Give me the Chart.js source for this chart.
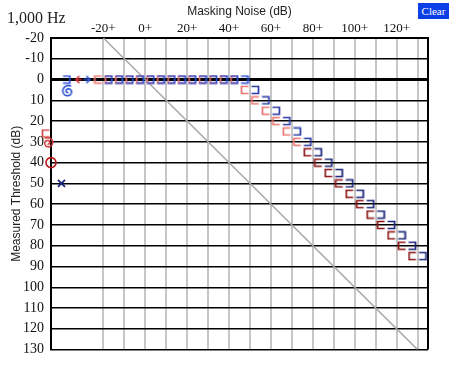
<!DOCTYPE html>
<html>
<head>
<meta charset="utf-8">
<script src="https://cdn.jsdelivr.net/npm/chart.js@4.4.1/dist/chart.umd.min.js"></script>
<style>
  body { margin: 0; background: #fff; }
  #wrap { position: relative; width: 458px; height: 365px; }
  #freq { position: absolute; left: 7px; top: 9px; font-family: "Liberation Serif", "DejaVu Serif", serif; font-size: 16px; color: #222; }
  #clear { position: absolute; left: 418px; top: 3px; width: 31px; height: 16px; background: #0a3ee6; color: #fff;
           font-family: "Liberation Serif", serif; font-size: 11px; line-height: 16px; text-align: center; }
</style>
</head>
<body>
<div id="wrap">
  <canvas id="audiogram" width="458" height="365"></canvas>
  <div id="freq">1,000 Hz</div>
  <div id="clear">Clear</div>
</div>
<script>
// --- axes ---
const X_GRID = [-20, -10, 0, 10, 20, 30, 40, 50, 60, 70, 80, 90, 100, 110, 120, 130, 135];
const X_LABELS = [-20, 0, 20, 40, 60, 80, 100, 120];

// --- masked bone plateau (0 dB) ---
const plateauMask = [-20, -15, -10, -5, 0, 5, 10, 15, 20, 25, 30, 35, 40, 45];
const plateauThr = [0, 0, 0, 0, 0, 0, 0, 0, 0, 0, 0, 0, 0, 0];

// --- rising part (overmasking) ---
const riseMaskA = [50, 55, 60, 65, 70, 75];
const riseThrA = [5, 10, 15, 20, 25, 30];
const riseMaskB = [80, 85, 90, 95, 100, 105, 110, 115, 120, 125, 130];
const riseThrB = [35, 40, 45, 50, 55, 60, 65, 70, 75, 80, 85];

// --- unmasked symbols (left strip) ---
const rightAirX = [-45], rightAirY = [40];
const rightBracketX = [-45], rightBracketY = [26];
const rightSpiralX = [-45], rightSpiralY = [30];
const leftAirX = [-40], leftAirY = [50];
const leftBracketX = [-40], leftBracketY = [0];
const leftSpiralX = [-40], leftSpiralY = [5];
const boneX = [-30], boneY = [0];

// diagonal reference line
const diagX = [-20, 130], diagY = [-20, 130];

const PINK = "#ec7470", DARKRED = "#8c1616", RED = "#d43030";
const BLUE = "#2a50d4", ROYAL = "#2838a4", NAVY = "#1a2478";

// --- symbol images ---
function sym(w, h, draw) {
  const c = document.createElement("canvas");
  c.width = w; c.height = h;
  const g = c.getContext("2d");
  g.lineWidth = 1.7;
  g.lineJoin = "miter";
  draw(g);
  return c;
}

// side -1: "⊏" left of the point, side 1: "⊐" right of the point
function bracket(color, side) {
  return sym(20, 10, g => {
    g.strokeStyle = color;
    g.beginPath();
    if (side < 0) { g.moveTo(8.5, 1.5); g.lineTo(1.5, 1.5); g.lineTo(1.5, 8.5); g.lineTo(8.5, 8.5); }
    else { g.moveTo(11.5, 1.5); g.lineTo(18.5, 1.5); g.lineTo(18.5, 8.5); g.lineTo(11.5, 8.5); }
    g.stroke();
  });
}

function arrow(color, side) {
  return sym(22, 10, g => {
    g.strokeStyle = color;
    g.beginPath();
    if (side < 0) { g.moveTo(8, 1.5); g.lineTo(4.5, 5); g.lineTo(8, 8.5); g.moveTo(4.5, 5); g.lineTo(10.5, 5); }
    else { g.moveTo(15, 1.5); g.lineTo(18.5, 5); g.lineTo(15, 8.5); g.moveTo(12, 5); g.lineTo(18.5, 5); }
    g.stroke();
  });
}

function spiral(color, dx, dy, rOut, flip) {
  return sym(34, 22, g => {
    g.strokeStyle = color;
    g.lineWidth = 1.6;
    const cx = 17 + dx, cy = 11 + dy, turns = 3.3 * Math.PI;
    g.beginPath();
    for (let t = 0; t <= turns; t += 0.08) {
      const r = 0.8 + (rOut - 0.8) * t / turns;
      const a = t + 1.2;
      const px = cx + flip * r * Math.cos(a), py = cy + r * Math.sin(a);
      if (t === 0) g.moveTo(px, py); else g.lineTo(px, py);
    }
    g.stroke();
  });
}

const pts = (xs, ys) => xs.map((x, i) => ({ x, y: ys[i] }));
const marks = (xs, ys, style, extra) => Object.assign({
  data: pts(xs, ys), pointStyle: style, pointRadius: 6, clip: false
}, extra || {});

const datasets = [
  marks(plateauMask, plateauThr, bracket(BLUE, 1)),
  marks(plateauMask, plateauThr, bracket(PINK, -1)),
  marks(riseMaskA, riseThrA, bracket(ROYAL, 1)),
  marks(riseMaskA, riseThrA, bracket(PINK, -1)),
  marks(riseMaskB, riseThrB, bracket(NAVY, 1)),
  marks(riseMaskB, riseThrB, bracket(DARKRED, -1)),
  marks(leftBracketX, leftBracketY, bracket(BLUE, 1)),
  marks(rightBracketX, rightBracketY, bracket("#d24848", -1)),
  marks(boneX, boneY, arrow(RED, -1)),
  marks(boneX, boneY, arrow(BLUE, 1)),
  marks(leftSpiralX, leftSpiralY, spiral(BLUE, 6.5, 1.5, 6.2, 1)),
  marks(rightSpiralX, rightSpiralY, spiral("#d03838", -3, 1, 5.6, -1)),
  marks(rightAirX, rightAirY, "circle", { pointRadius: 5, borderColor: "#b81818", borderWidth: 1.6, backgroundColor: "rgba(0,0,0,0)" }),
  marks(leftAirX, leftAirY, "crossRot", { pointRadius: 5, borderColor: NAVY, borderWidth: 1.8 }),
  {
    data: pts(diagX, diagY), showLine: true, pointRadius: 0,
    borderColor: "#a9a9a9", borderWidth: 1.5, order: 10
  }
];

new Chart(document.getElementById("audiogram"), {
  type: "scatter",
  data: { datasets },
  options: {
    responsive: false,
    animation: false,
    events: [],
    layout: { padding: { left: 0, top: 0, right: 30, bottom: 13 } },
    plugins: { legend: { display: false }, tooltip: { enabled: false } },
    scales: {
      x: {
        type: "linear", position: "top", min: -45, max: 135,
        afterBuildTicks: s => { s.ticks = X_GRID.map(v => ({ value: v })); },
        afterFit: s => { s.height = 38; },
        title: {
          display: true, text: "Masking Noise (dB)", color: "#222",
          font: { family: '"Liberation Sans", Arial, sans-serif', size: 12 },
          padding: { top: 4, bottom: 0 }
        },
        ticks: {
          autoSkip: false, maxRotation: 0, padding: 2, color: "#111",
          font: { family: '"Liberation Serif", "Times New Roman", serif', size: 13 },
          callback: v => X_LABELS.includes(v) ? v + "+" : ""
        },
        grid: {
          drawTicks: false,
          color: c => c.tick.value === 135 ? "#000" : "#c6c6c6",
          lineWidth: 2
        },
        border: { display: true, color: "#000", width: 2 }
      },
      y: {
        type: "linear", reverse: true, min: -20, max: 130,
        afterFit: s => { s.width = 51; },
        title: {
          display: true, text: "Measured Threshold (dB)", color: "#222",
          font: { family: '"Liberation Sans", Arial, sans-serif', size: 12 },
          padding: { top: 9, bottom: 0 }
        },
        ticks: {
          stepSize: 10, autoSkip: false, padding: 7, color: "#111",
          font: { family: '"Liberation Serif", "Times New Roman", serif', size: 14 }
        },
        grid: {
          drawTicks: false, color: "#000",
          lineWidth: c => c.tick.value === 0 ? 3 : 1.5
        },
        border: { display: true, color: "#000", width: 2 }
      }
    }
  }
});
</script>
</body>
</html>
